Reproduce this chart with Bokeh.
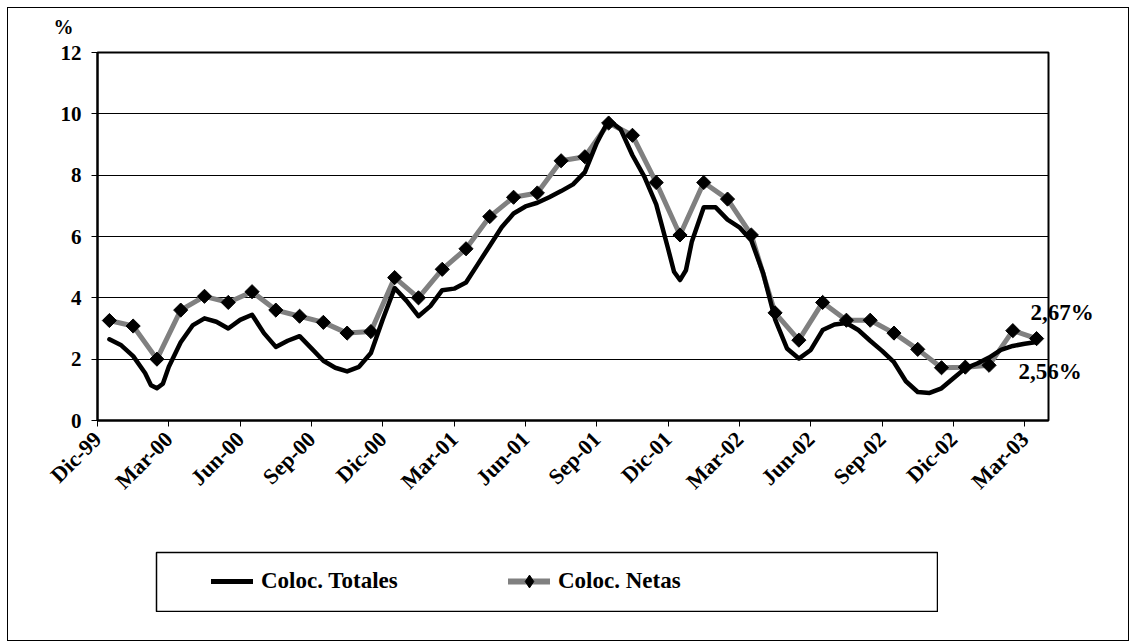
import numpy as np
from bokeh.plotting import figure
from bokeh.layouts import column, row
from bokeh.models import Range1d, FixedTicker, Legend, LegendItem, Label, Spacer
from bokeh.embed import file_html
from bokeh.resources import INLINE

# ---------------- data ----------------
tick_months = [0, 3, 6, 9, 12, 15, 18, 21, 24, 27, 30, 33, 36, 39]
tick_labels = ["Dic-99", "Mar-00", "Jun-00", "Sep-00", "Dic-00", "Mar-01", "Jun-01",
               "Sep-01", "Dic-01", "Mar-02", "Jun-02", "Sep-02", "Dic-02", "Mar-03"]
y_ticks = [0, 2, 4, 6, 8, 10, 12]

# Coloc. Netas: monthly values (month index, mid-month)
netas_x = [0.5, 1.5, 2.5, 3.5, 4.5, 5.5, 6.5, 7.5, 8.5, 9.5,
           10.5, 11.5, 12.5, 13.5, 14.5, 15.5, 16.5, 17.5, 18.5, 19.5,
           20.5, 21.5, 22.5, 23.5, 24.5, 25.5, 26.5, 27.5, 28.5, 29.5,
           30.5, 31.5, 32.5, 33.5, 34.5, 35.5, 36.5, 37.5, 38.5, 39.5]
netas_y = [3.26, 3.08, 2.00, 3.60, 4.05, 3.85, 4.20, 3.60, 3.40, 3.20,
           2.85, 2.90, 4.66, 4.00, 4.93, 5.60, 6.65, 7.28, 7.42, 8.47,
           8.60, 9.70, 9.30, 7.76, 6.05, 7.76, 7.22, 6.05, 3.51, 2.62,
           3.85, 3.27, 3.27, 2.85, 2.32, 1.72, 1.74, 1.80, 2.93, 2.67]

# Coloc. Totales: finer-grained series
totales_x = [0.5, 1.0, 1.5, 2.0, 2.25, 2.5, 2.75, 3.0, 3.5, 4.0,
             4.5, 5.0, 5.5, 6.0, 6.5, 7.0, 7.5, 8.0, 8.5, 9.0,
             9.5, 10.0, 10.5, 11.0, 11.5, 12.0, 12.5, 13.0, 13.5, 14.0,
             14.5, 15.0, 15.5, 16.0, 16.5, 17.0, 17.5, 18.0, 18.5, 19.0,
             19.5, 20.0, 20.5, 21.0, 21.5, 22.0, 22.5, 23.0, 23.5, 24.0,
             24.25, 24.5, 24.75, 25.0, 25.5, 26.0, 26.5, 27.0, 27.5, 28.0,
             28.5, 29.0, 29.5, 30.0, 30.5, 31.0, 31.5, 32.0, 32.5, 33.0,
             33.5, 34.0, 34.5, 35.0, 35.5, 36.0, 36.5, 37.0, 37.5, 38.0,
             38.5, 39.0, 39.5]
totales_y = [2.65, 2.45, 2.10, 1.55, 1.15, 1.05, 1.20, 1.75, 2.55, 3.10,
             3.33, 3.22, 3.00, 3.28, 3.45, 2.85, 2.40, 2.60, 2.75, 2.35,
             1.95, 1.72, 1.60, 1.75, 2.20, 3.30, 4.32, 3.90, 3.40, 3.73,
             4.25, 4.30, 4.50, 5.10, 5.70, 6.30, 6.75, 6.98, 7.10, 7.28,
             7.48, 7.70, 8.10, 9.05, 9.80, 9.50, 8.65, 7.95, 7.05, 5.60,
             4.85, 4.58, 4.90, 5.84, 6.95, 6.95, 6.55, 6.30, 5.87, 4.80,
             3.30, 2.35, 2.02, 2.30, 2.95, 3.13, 3.18, 2.95, 2.60, 2.27,
             1.90, 1.28, 0.93, 0.90, 1.05, 1.38, 1.70, 1.86, 2.05, 2.30,
             2.43, 2.50, 2.56]
assert len(totales_x) == len(totales_y)
assert len(netas_x) == len(netas_y)

end_labels = ["2,67%", "2,56%"]
series_names = ["Coloc. Totales", "Coloc. Netas"]
unit_label = "%"

FONT = "Liberation Serif"
GRAY = "#808080"

# ---------------- main chart ----------------
p = figure(width=1120, height=530, output_backend="svg", toolbar_location=None,
           x_range=Range1d(0, 40), y_range=Range1d(0, 12),
           min_border_left=89, min_border_right=80, min_border_top=44, min_border_bottom=118)
p.background_fill_color = "white"
p.border_fill_color = "white"
p.outline_line_color = "black"
p.outline_line_width = 2

p.xaxis.ticker = FixedTicker(ticks=tick_months)
p.xaxis.major_label_overrides = {m: lab for m, lab in zip(tick_months, tick_labels)}
p.xaxis.major_label_orientation = np.pi / 4
p.yaxis.ticker = FixedTicker(ticks=y_ticks)
for ax in (p.xaxis, p.yaxis):
    ax.axis_line_color = "black"
    ax.axis_line_width = 2
    ax.major_tick_line_color = "black"
    ax.major_tick_line_width = 1
    ax.major_tick_out = 6
    ax.major_tick_in = 0
    ax.minor_tick_line_color = None
    ax.major_label_text_font = FONT
    ax.major_label_text_font_style = "bold"
    ax.major_label_text_color = "black"
p.yaxis.major_label_text_font_size = "21px"
p.yaxis.major_label_standoff = 10
p.xaxis.major_label_text_font_size = "22px"
p.xaxis.major_label_standoff = 9
p.xgrid.grid_line_color = None
p.ygrid.grid_line_color = "black"
p.ygrid.grid_line_width = 1

p.line(netas_x, netas_y, line_color=GRAY, line_width=5, line_join="round", line_cap="round")
p.line(totales_x, totales_y, line_color="black", line_width=4.5, line_join="round", line_cap="round")
p.scatter(netas_x, netas_y, marker="square", angle=np.pi / 4, size=10,
          fill_color="black", line_color="black")

lab_kw = dict(text_font=FONT, text_font_style="bold", text_color="black",
              text_baseline="alphabetic", text_align="left")
p.add_layout(Label(x=netas_x[-1], y=netas_y[-1], text=end_labels[0], x_offset=-6, y_offset=26,
                   text_font_size="23px", **lab_kw), "right")
p.add_layout(Label(x=totales_x[-1], y=totales_y[-1], text=end_labels[1], x_offset=-18, y_offset=-30,
                   text_font_size="23px", **lab_kw), "above")
p.add_layout(Label(x=-1.85, y=13.2, text=unit_label, text_font_size="20px",
                   **dict(lab_kw, text_baseline="top")), "left")

# ---------------- legend (own small figure, its frame is the legend box) ----------------
lg = figure(width=783, height=61, output_backend="svg", toolbar_location=None,
            x_range=Range1d(-200, -100), y_range=Range1d(-200, -100),
            min_border_left=1, min_border_right=1, min_border_top=1, min_border_bottom=1)
lg.axis.visible = False
lg.grid.visible = False
lg.outline_line_color = "black"
lg.outline_line_width = 1.5
lg.background_fill_color = "white"
lg.border_fill_color = "white"
# same series drawn out of view: only used for the legend samples
d_tot = lg.line(totales_x, totales_y, line_color="black", line_width=5, line_cap="round")
d_net = lg.line(netas_x, netas_y, line_color=GRAY, line_width=6, line_cap="round")
d_pts = lg.scatter(netas_x, netas_y, marker="diamond", size=14,
                   fill_color="black", line_color="black")
legend = Legend(items=[LegendItem(label=series_names[0], renderers=[d_tot]),
                       LegendItem(label=series_names[1], renderers=[d_net, d_pts])],
                orientation="horizontal", location=(55, 14), padding=0, spacing=47,
                label_width=200, glyph_width=42, glyph_height=32, label_height=32,
                label_standoff=8, border_line_alpha=0, background_fill_alpha=0,
                label_text_font=FONT, label_text_font_style="bold",
                label_text_font_size="23px", label_text_color="black",
                label_text_baseline="middle")
lg.add_layout(legend)

layout = column(p,
                Spacer(width=10, height=13),
                row(Spacer(width=147, height=61), lg),
                Spacer(width=10, height=28))
layout.margin = (7, 0, 0, 7)
layout.styles = {"border": "1px solid black"}

open("out.html", "w").write(file_html(layout, INLINE))
